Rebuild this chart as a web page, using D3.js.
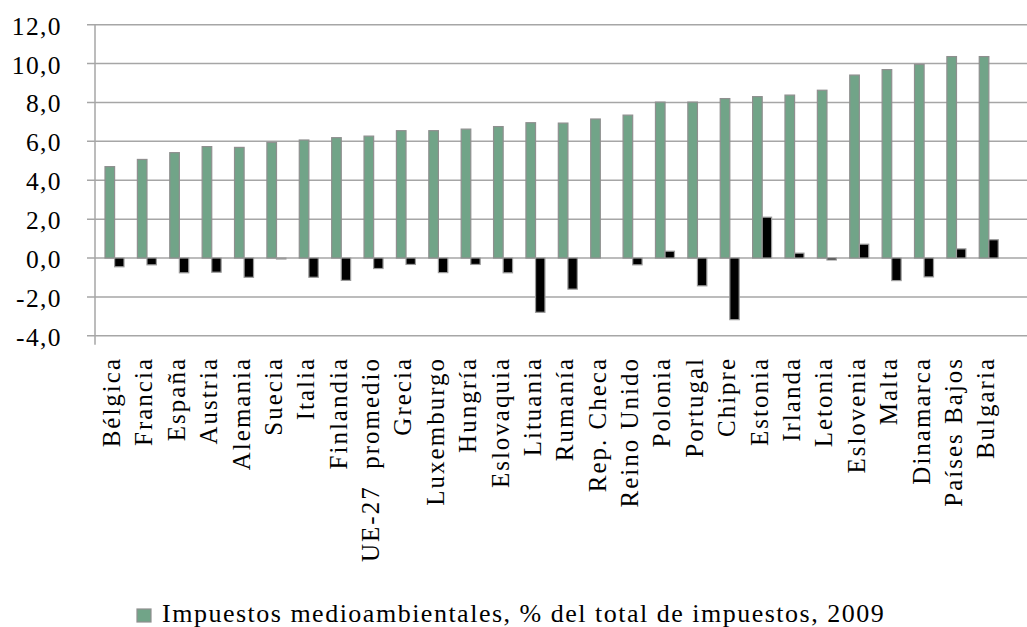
<!DOCTYPE html>
<html><head><meta charset="utf-8">
<script src="https://cdn.jsdelivr.net/npm/d3@7"></script>
<style>body{margin:0;background:#fff}svg{display:block}text{font-family:"Liberation Serif","Times New Roman",serif;fill:#000}</style>
</head><body>
<script>
const categories = ["Bélgica","Francia","España","Austria","Alemania","Suecia","Italia","Finlandia","UE-27  promedio","Grecia","Luxemburgo","Hungría","Eslovaquia","Lituania","Rumanía","Rep. Checa","Reino Unido","Polonia","Portugal","Chipre","Estonia","Irlanda","Letonia","Eslovenia","Malta","Dinamarca","Países Bajos","Bulgaria"];
const impuestos = [4.7,5.07,5.42,5.73,5.69,5.95,6.07,6.19,6.27,6.55,6.55,6.63,6.76,6.96,6.94,7.15,7.35,8.02,8.02,8.2,8.3,8.38,8.63,9.41,9.69,9.96,10.36,10.36];
const variacion = [-0.45,-0.35,-0.76,-0.73,-0.99,-0.05,-0.99,-1.15,-0.54,-0.33,-0.75,-0.33,-0.76,-2.79,-1.6,null,-0.35,0.35,-1.43,-3.17,2.1,0.25,-0.1,0.71,-1.16,-0.97,0.47,0.94];
const yTicks = [-4,-2,0,2,4,6,8,10,12];
const legendLabel = "Impuestos medioambientales, % del total de impuestos, 2009";

const W = 1027, H = 627;
const svg = d3.select("body").append("svg").attr("width", W).attr("height", H);

const x0 = 95, bandW = 32.38;
const x = d3.scaleBand().domain(categories).range([x0, x0 + bandW * categories.length]).paddingInner(0).paddingOuter(0);
const y = d3.scaleLinear().domain([-4, 12]).range([335.8, 24.7]);
const gridColor = "#a6a6a6";

// gridlines
svg.append("g").selectAll("line").data(yTicks).join("line")
  .attr("x1", x0 - 8).attr("x2", W).attr("y1", d => y(d)).attr("y2", d => y(d))
  .attr("stroke", gridColor).attr("stroke-width", 1.5);
// left axis line
svg.append("line").attr("x1", x0).attr("x2", x0).attr("y1", y(12)).attr("y2", y(-4) + 9)
  .attr("stroke", gridColor).attr("stroke-width", 1.5);

// y tick labels
const fmt = d => d3.format(".1f")(d).replace(".", ",").replace("−", "-");
svg.append("g").selectAll("text").data(yTicks).join("text")
  .attr("x", 62).attr("y", d => y(d) + 10).attr("text-anchor", "end")
  .attr("font-size", 25.5).attr("letter-spacing", "1.4px").text(fmt);

// green bars
svg.append("g").selectAll("rect").data(categories).join("rect")
  .attr("x", d => x(d) + 10).attr("width", 9.6)
  .attr("y", (d, i) => y(impuestos[i])).attr("height", (d, i) => y(0) - y(impuestos[i]))
  .attr("fill", "#71a488").attr("stroke", "#8f8f8f").attr("stroke-width", 1.2);

// black bars
svg.append("g").selectAll("rect").data(categories.filter((d, i) => variacion[i] !== null)).join("rect")
  .attr("x", d => x(d) + 19.6).attr("width", 9.4)
  .attr("y", d => { const v = variacion[categories.indexOf(d)]; return y(Math.max(0, v)); })
  .attr("height", d => { const v = variacion[categories.indexOf(d)]; return Math.abs(y(v) - y(0)); })
  .attr("fill", "#000").attr("stroke", "#9a9a9a").attr("stroke-width", 1.2);

// category labels
svg.append("g").selectAll("text").data(categories).join("text")
  .attr("transform", d => `translate(${x(d) + 25},357) rotate(-90)`)
  .attr("text-anchor", "end").attr("font-size", 25).attr("letter-spacing", "2px")
  .style("white-space", "pre").text(d => d);

// legend
const lg = svg.append("g");
lg.append("rect").attr("x", 137).attr("y", 609).attr("width", 14).attr("height", 13)
  .attr("fill", "#71a488").attr("stroke", "#8f8f8f").attr("stroke-width", 1.2);
lg.append("text").attr("x", 162).attr("y", 622).attr("font-size", 26).attr("letter-spacing", "1.5px").text(legendLabel);
</script>
</body></html>
